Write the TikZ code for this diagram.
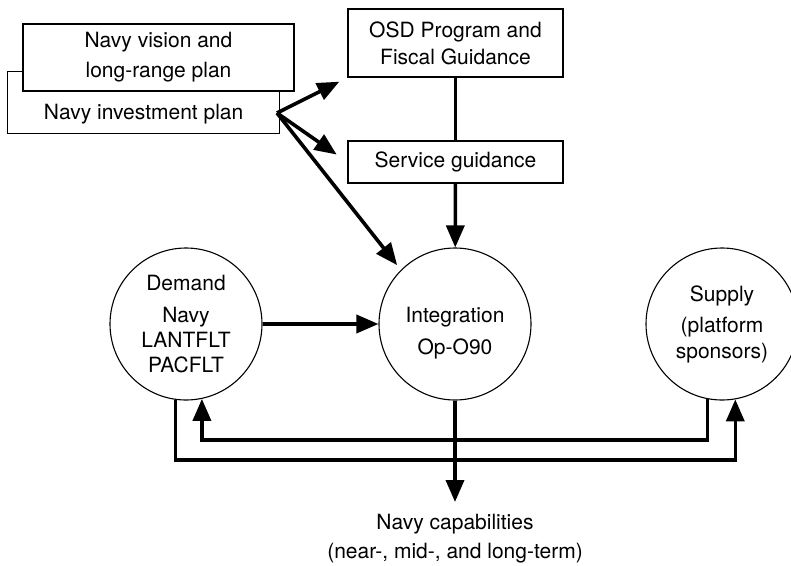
\documentclass[tikz,border=0pt]{standalone}
\usepackage{fontspec}
\setmainfont{TeX Gyre Heros}
\usepackage{tikz}
\usetikzlibrary{arrows.meta,calc}
\tikzstyle{planbox} = [draw=black, fill=white, line width=1.3pt,
    rectangle, inner sep=0pt, align=center]
\tikzstyle{bubble} = [draw=black, fill=white, line width=1.1pt,
    circle, minimum size=152pt, inner sep=0pt, align=center]
\tikzstyle{flow} = [line width=3.6pt, -{Triangle[length=22pt, width=18pt]}]
\tikzstyle{rail} = [line width=3.6pt]

\begin{document}
\begin{tikzpicture}[x=1pt, y=-1pt, font=\fontsize{21}{26}\selectfont]
                \useasboundingbox (0,0) rectangle (791,565);
                \node [planbox, anchor=south west, minimum width=272pt,
                    text height=43pt, text depth=9pt, inner ysep=5pt] (invest) at (7,134) {Navy investment plan};
                \node [planbox, minimum width=271pt, minimum height=67pt] (vision) at (158.5,57.5) {Navy vision and\\[4pt]long-range plan};
                \node [planbox, minimum width=215pt, minimum height=68pt] (osd) at (455.5,43) {OSD Program and\\[1pt]Fiscal Guidance};
                \node [planbox, minimum width=215pt, minimum height=42pt] (service) at (455.5,162) {Service guidance};
                \node [bubble] (demand) at (186,324) {Demand\\[6pt]Navy\\[-1pt]LANTFLT\\[-1pt]PACFLT};
                \node [bubble] (integ) at (455,324) {\rule{0pt}{34pt}Integration\\[6pt]Op-O90};
                \node [bubble] (supply) at (722,324) {Supply\\[5pt](platform\\sponsors)};
                \node [inner sep=0pt, anchor=north, align=center] (caps) at (455,514) {Navy capabilities\\[3pt](near-, mid-, and long-term)};
                \coordinate (fork) at (277,113);
                \coordinate (lowrail) at (455,460);
                \coordinate (highrail) at (455,440);
                % guidance chain
                \draw [rail] (osd) -- (service);
                \draw [flow] (service) -- (integ);
                \draw [flow, shorten >=9pt] (fork) -- (osd.south west);
                \draw [flow, shorten >=13pt] (fork) -- (service.west);
                \draw [flow, shorten >=6pt] (fork) -- (integ.north west);
                \draw [flow] (demand) -- (integ);
                \draw [flow, shorten >=12pt] (integ) -- (caps);
                % feedback loop
                \draw [flow] (demand.262) -- (demand.262 |- lowrail) -- (supply.280 |- lowrail) -- (supply.280);
                \draw [flow] (supply.259) -- (supply.259 |- highrail) -- (demand.282 |- highrail) -- (demand.282);
            \end{tikzpicture}
\end{document}
